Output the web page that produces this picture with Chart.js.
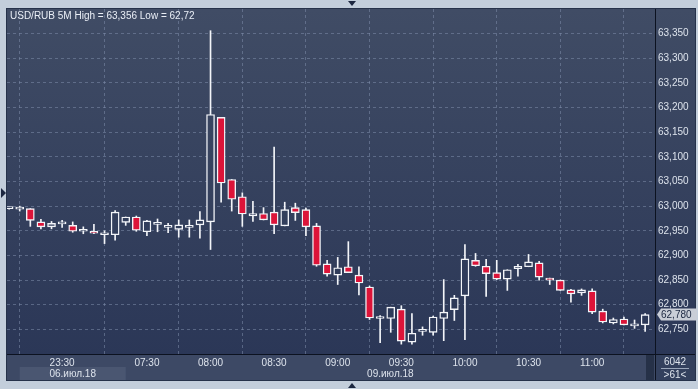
<!DOCTYPE html>
<html><head><meta charset="utf-8">
<script src="https://cdn.jsdelivr.net/npm/chart.js@4.4.1/dist/chart.umd.min.js"></script>
<style>html,body{margin:0;padding:0;background:#c3cedb;}canvas{display:block;}</style>
</head><body>
<canvas id="c" width="698" height="389"></canvas>
<script>
const titleText = 'USD/RUB 5M High = 63,356 Low = 62,72';
const times = ['23:05','23:10','23:15','23:20','23:25','23:30','23:35','23:40','23:45','23:50','23:55',
 '07:20','07:25','07:30','07:35','07:40','07:45','07:50','07:55','08:00','08:05','08:10','08:15','08:20','08:25',
 '08:30','08:35','08:40','08:45','08:50','08:55','09:00','09:05','09:10','09:15','09:20','09:25','09:30','09:35',
 '09:40','09:45','09:50','09:55','10:00','10:05','10:10','10:15','10:20','10:25','10:30','10:35','10:40','10:45',
 '10:50','10:55','11:00','11:05','11:10','11:15','11:20','11:25'];
const openP  = [62.995,62.994,62.995,62.968,62.958,62.964,62.961,62.949,62.949,62.942,62.942,62.967,62.978,62.948,62.963,62.957,62.953,62.957,62.962,62.968,
 63.180,63.054,63.019,62.980,62.985,62.988,62.960,62.997,62.993,62.960,62.883,62.860,62.877,62.860,62.836,62.772,62.772,62.791,62.724,62.746,
 62.744,62.772,62.790,62.818,62.890,62.878,62.865,62.852,62.873,62.877,62.885,62.854,62.850,62.830,62.824,62.828,62.787,62.763,62.771,62.757,62.759];
const highP  = [62.996,63.000,62.995,62.973,62.969,62.971,62.968,62.958,62.963,62.950,62.991,62.978,62.980,62.971,62.974,62.965,62.972,62.972,62.989,63.356,
 63.180,63.054,63.027,63.010,62.997,63.120,63.008,63.006,62.996,62.965,62.890,62.896,62.928,62.877,62.838,62.778,62.795,62.798,62.782,62.755,
 62.777,62.851,62.819,62.922,62.904,62.892,62.890,62.871,62.882,62.902,62.888,62.854,62.850,62.831,62.832,62.832,62.791,62.773,62.775,62.769,62.782];
const lowP   = [62.994,62.990,62.959,62.954,62.954,62.957,62.947,62.944,62.944,62.924,62.931,62.961,62.949,62.940,62.948,62.946,62.937,62.937,62.935,62.912,
 63.008,62.990,62.959,62.969,62.972,62.944,62.960,62.971,62.940,62.878,62.858,62.841,62.865,62.820,62.770,62.723,62.744,62.720,62.720,62.738,
 62.738,62.727,62.768,62.729,62.878,62.817,62.851,62.829,62.858,62.877,62.850,62.841,62.829,62.805,62.819,62.782,62.763,62.761,62.759,62.752,62.746];
const closeP = [62.995,62.996,62.971,62.958,62.965,62.964,62.949,62.949,62.945,62.942,62.988,62.978,62.951,62.970,62.963,62.957,62.962,62.957,62.972,63.186,
 63.047,63.014,62.984,62.985,62.972,62.962,62.993,62.987,62.958,62.880,62.862,62.875,62.865,62.844,62.773,62.772,62.795,62.726,62.742,62.746,
 62.775,62.785,62.814,62.893,62.879,62.863,62.852,62.871,62.878,62.887,62.856,62.850,62.829,62.822,62.830,62.785,62.765,62.770,62.759,62.757,62.780];
const tickLabels = ['23:30','07:30','08:00','08:30','09:00','09:30','10:00','10:30','11:00'];
const dateLabels = ['06.июл.18','09.июл.18'];
const dateStart = [1, 11];
const volumeText = '6042';
const countText = '>61<';

const RED = '#dc1439';
const WHITE = '#f3f5f9';
const TEXT = '#dde3ec';
const FONT = '"Liberation Sans", Arial, sans-serif';

function plotGrad(chart){
  const a = chart.chartArea;
  if(!a) return '#364360';
  const g = chart.ctx.createLinearGradient(0, a.top, 0, a.bottom);
  g.addColorStop(0, '#404c65');
  g.addColorStop(1, '#2b3757');
  return g;
}
const tickIdx = tickLabels.map(t => times.indexOf(t));

const bgPlugin = {
  id:'bg',
  beforeDraw(chart){
    const c = chart.ctx, a = chart.chartArea;
    c.save();
    c.fillStyle = '#c3cedb';
    c.fillRect(0,0,chart.width,chart.height);
    const g = plotGrad(chart);
    c.fillStyle = g;
    c.fillRect(a.left, a.top, a.right - a.left, a.bottom - a.top);
    c.fillRect(a.right, a.top, 695 - a.right, a.bottom - a.top);
    // x axis band
    c.fillStyle = '#3d4965';
    c.fillRect(a.left, a.bottom, a.right - a.left, 380 - a.bottom);
    const xs = chart.scales.x;
    const b0 = xs.getPixelForValue(dateStart[0]), b1 = xs.getPixelForValue(dateStart[1]);
    c.fillStyle = '#4a5671';
    c.fillRect(b0, a.bottom + 13, b1 - b0, 380 - a.bottom - 13);
    c.fillStyle = '#263148';
    c.fillRect(a.right - 9, a.bottom + 1, 8, 380 - a.bottom - 1);
    c.fillStyle = '#33405d';
    c.fillRect(a.right, a.bottom, 695 - a.right, 380 - a.bottom);
    c.restore();
  },
  afterDraw(chart){
    const c = chart.ctx, a = chart.chartArea, xs = chart.scales.x, ys = chart.scales.y;
    c.save();
    // borders
    c.strokeStyle = '#0c1220';
    c.lineWidth = 1;
    c.beginPath();
    c.moveTo(Math.round(a.right) + 0.5, a.top); c.lineTo(Math.round(a.right) + 0.5, 380);
    c.moveTo(a.left, Math.round(a.bottom) + 0.5); c.lineTo(695, Math.round(a.bottom) + 0.5);
    c.stroke();
    c.strokeStyle = '#26324a';
    c.strokeRect(a.left - 0.5, a.top - 0.5, 695 - a.left + 1, 380 - a.top + 1);
    // title
    c.fillStyle = '#e9eef6';
    c.font = '10px ' + FONT;
    c.textBaseline = 'alphabetic';
    c.textAlign = 'left';
    c.fillText(titleText, a.left + 3, 18.5);
    // date labels
    c.fillStyle = TEXT;
    c.textAlign = 'center';
    const b0 = xs.getPixelForValue(dateStart[0]), b1 = xs.getPixelForValue(dateStart[1]);
    c.fillText(dateLabels[0], (b0 + b1) / 2, 377);
    c.fillText(dateLabels[1], (b1 + a.right) / 2, 377);
    // bottom-right cell
    const cx = (a.right + 695) / 2;
    c.fillText(volumeText, cx, 365);
    c.fillText(countText, cx, 378);
    c.strokeStyle = '#9aa6ba';
    c.beginPath(); c.moveTo(cx - 14, 368.5); c.lineTo(cx + 14, 368.5); c.stroke();
    // price tag
    const last = closeP[closeP.length - 1];
    const py = ys.getPixelForValue(last);
    c.fillStyle = '#c9ced7';
    c.beginPath();
    c.moveTo(a.right + 2, py);
    c.lineTo(a.right + 6, py - 6);
    c.lineTo(697, py - 6);
    c.lineTo(697, py + 6);
    c.lineTo(a.right + 6, py + 6);
    c.closePath();
    c.fill();
    c.fillStyle = '#1b2740';
    c.textAlign = 'left';
    c.textBaseline = 'middle';
    c.fillText(last.toFixed(3).replace('.', ','), a.right + 6, py + 0.5);
    // small triangles
    c.fillStyle = '#1c2740';
    c.beginPath(); c.moveTo(348, 1); c.lineTo(356, 1); c.lineTo(352, 6); c.closePath(); c.fill();
    c.beginPath(); c.moveTo(348, 388); c.lineTo(356, 388); c.lineTo(352, 383); c.closePath(); c.fill();
    c.beginPath(); c.moveTo(1, 188); c.lineTo(1, 198); c.lineTo(6, 193); c.closePath(); c.fill();
    c.restore();
  }
};

new Chart(document.getElementById('c'), {
  type: 'bar',
  data: {
    datasets: [
      {
        label: 'body',
        data: times.map((t, i) => ({x: i, y: [openP[i], closeP[i]]})),
        barThickness: 8,
        minBarLength: 2,
        borderWidth: 1.4,
        borderColor: WHITE,
        borderSkipped: false,
        backgroundColor: (ctx) => closeP[ctx.dataIndex] < openP[ctx.dataIndex] ? RED : plotGrad(ctx.chart),
        grouped: false,
        order: 0
      },
      {
        label: 'wick',
        data: times.map((t, i) => ({x: i, y: [lowP[i], highP[i]]})),
        barThickness: 1,
        borderWidth: 0,
        backgroundColor: WHITE,
        grouped: false,
        order: 1
      }
    ]
  },
  options: {
    responsive: false,
    animation: false,
    devicePixelRatio: 1,
    layout: {padding: {left: 7, top: 7, right: 3, bottom: 9}},
    plugins: {legend: {display: false}, tooltip: {enabled: false}, title: {display: false}},
    scales: {
      x: {
        type: 'linear',
        min: -0.2,
        max: 60.93,
        offset: false,
        afterBuildTicks: (s) => { s.ticks = tickIdx.map(v => ({value: v})); },
        afterFit: (s) => { s.height = 26; },
        ticks: {
          autoSkip: false, maxRotation: 0, padding: 3,
          color: TEXT, font: {family: FONT, size: 10},
          callback: (v) => times[v]
        },
        grid: {color: 'rgba(125,140,170,0.55)', drawTicks: false, lineWidth: 1},
        border: {display: false, dash: [3, 3]}
      },
      y: {
        position: 'right',
        min: 62.70,
        max: 63.40,
        afterFit: (s) => { s.width = 40; },
        ticks: {
          stepSize: 0.05, padding: 3,
          color: TEXT, font: {family: FONT, size: 10},
          callback: (v) => (v < 62.74 || v > 63.36) ? '' : v.toFixed(3).replace('.', ',')
        },
        grid: {
          color: (ctx) => (ctx.tick && (ctx.tick.value < 62.74 || ctx.tick.value > 63.36)) ? 'rgba(0,0,0,0)' : 'rgba(125,140,170,0.55)',
          drawTicks: false, lineWidth: 1
        },
        border: {display: false, dash: [3, 3]}
      }
    }
  },
  plugins: [bgPlugin]
});
</script>
</body></html>
